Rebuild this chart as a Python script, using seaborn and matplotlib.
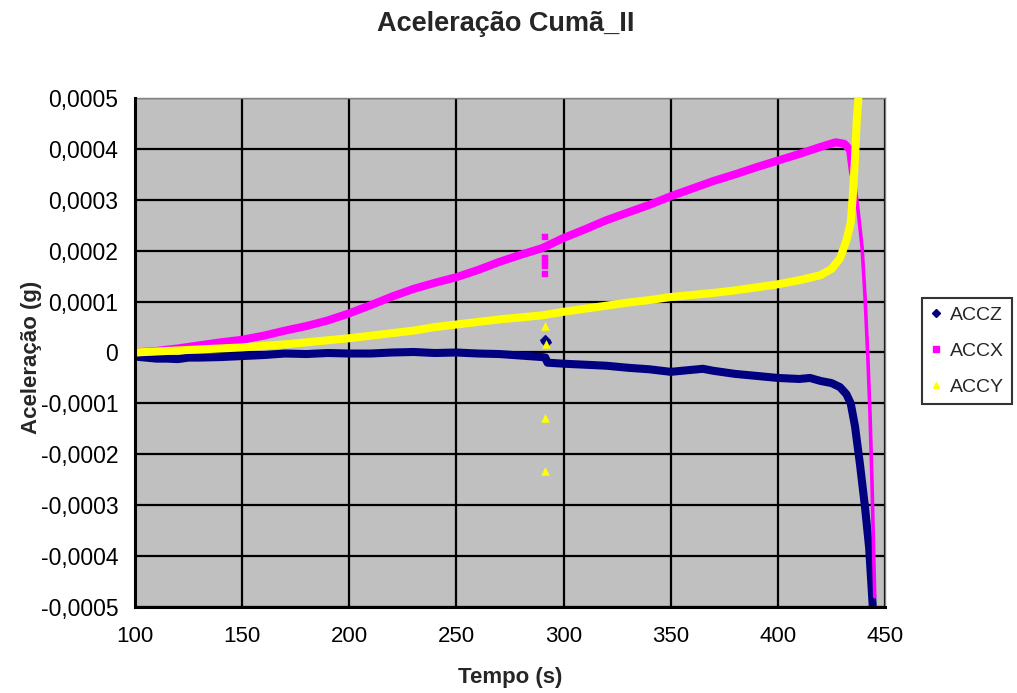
import matplotlib
matplotlib.use("Agg")
import matplotlib.pyplot as plt
from matplotlib.lines import Line2D
import seaborn as sns
import pandas as pd

# ---------------- data (values in 1e-4 g) ----------------
ACCZ_T = [100, 105, 110, 115, 120, 125, 130, 140, 150, 160, 170, 180, 190, 200, 210, 220,
          230, 240, 250, 260, 270, 280, 290, 291.5, 292.5, 300, 310, 320, 330, 340, 350,
          360, 365, 370, 380, 390, 400, 410, 415, 420, 425, 429, 432, 434, 436, 438.3,
          440.7, 442.6, 444.3]
ACCZ_V = [-0.08, -0.1, -0.12, -0.12, -0.13, -0.1, -0.1, -0.09, -0.07, -0.05, -0.02, -0.03,
          -0.01, -0.02, -0.02, 0.0, 0.01, -0.01, 0.0, -0.02, -0.03, -0.06, -0.09, -0.1,
          -0.2, -0.22, -0.24, -0.26, -0.3, -0.33, -0.38, -0.34, -0.32, -0.36, -0.42, -0.46,
          -0.5, -0.52, -0.5, -0.56, -0.6, -0.68, -0.82, -1.0, -1.45, -2.19, -3.05, -3.84, -5.0]

ACCX_T = [100, 110, 120, 130, 140, 150, 160, 170, 180, 190, 200, 210, 220, 230, 240, 250,
          260, 270, 280, 290, 300, 310, 320, 330, 340, 350, 360, 370, 380, 390, 400, 410,
          420, 427, 431, 433.7, 435.1, 436.9, 439.3, 440.7, 442, 443, 443.9, 445.2]
ACCX_V = [0.0, 0.03, 0.08, 0.14, 0.2, 0.25, 0.33, 0.43, 0.52, 0.63, 0.77, 0.93, 1.1, 1.25,
          1.37, 1.48, 1.62, 1.78, 1.92, 2.05, 2.25, 2.42, 2.6, 2.75, 2.9, 3.07, 3.22, 3.37,
          3.5, 3.64, 3.77, 3.9, 4.04, 4.13, 4.1, 3.98, 3.52, 2.99, 2.07, 1.08, -0.1, -1.2,
          -2.5, -4.8]

ACCY_T = [100, 110, 120, 130, 140, 150, 160, 170, 180, 190, 200, 210, 220, 230, 240, 250,
          260, 270, 280, 290, 300, 310, 320, 330, 340, 350, 360, 370, 380, 390, 400, 410,
          420, 425, 429, 432, 434, 435, 436, 436.8, 437.6, 438.2]
ACCY_V = [0.0, 0.02, 0.04, 0.06, 0.08, 0.1, 0.13, 0.16, 0.2, 0.24, 0.28, 0.33, 0.38, 0.43,
          0.5, 0.55, 0.6, 0.65, 0.69, 0.73, 0.8, 0.86, 0.92, 0.98, 1.03, 1.09, 1.13, 1.17,
          1.22, 1.28, 1.34, 1.42, 1.52, 1.64, 1.85, 2.2, 2.55, 3.1, 3.8, 4.55, 5.0, 5.4]

# outlier samples near t = 291.5 s
OUT_Z_T = [291.4, 291.6]
OUT_Z_V = [0.25, 0.2]
OUT_X_T = [291.3, 291.3, 291.4, 291.4, 291.3]
OUT_X_V = [2.26, 1.85, 1.77, 1.7, 1.55]
OUT_Y_T = [291.5, 291.6, 291.5, 291.4]
OUT_Y_V = [0.52, 0.16, -1.28, -2.32]

SERIES = ["ACCZ", "ACCX", "ACCY"]
X_TICKS = [100, 150, 200, 250, 300, 350, 400, 450]
Y_TICKS = [-5, -4, -3, -2, -1, 0, 1, 2, 3, 4, 5]
Y_TICK_LABELS = ["-0,0005", "-0,0004", "-0,0003", "-0,0002", "-0,0001", "0",
                 "0,0001", "0,0002", "0,0003", "0,0004", "0,0005"]
TITLE = "Aceleração Cumã_II"
XLABEL = "Tempo (s)"
YLABEL = "Aceleração (g)"

NAVY, MAGENTA, YELLOW = "#000080", "#FF00FF", "#FFFF00"
SCALE = 1e-4

# ---------------- figure ----------------
sns.set_style("white")
plt.rcParams["font.family"] = ["Liberation Sans", "DejaVu Sans"]

fig = plt.figure(figsize=(10.17, 6.93), dpi=100)
ax = fig.add_axes([135 / 1017, 1 - 607 / 693, 750 / 1017, 509 / 693])
ax.set_facecolor("#C0C0C0")

def df(t, v):
    return pd.DataFrame({"t": t, "v": [x * SCALE for x in v]})

lw = 5.8
# ACCZ
sns.lineplot(data=df(ACCZ_T, ACCZ_V), x="t", y="v", sort=False, estimator=None,
             color=NAVY, linewidth=lw, ax=ax, zorder=3)
sns.scatterplot(data=df(OUT_Z_T, OUT_Z_V), x="t", y="v", color=NAVY, marker="D",
                s=30, edgecolor=NAVY, ax=ax, zorder=3)
# ACCX (main + sparse fast-falling tail)
split = ACCX_T.index(435.1)
sns.lineplot(data=df(ACCX_T[:split + 1], ACCX_V[:split + 1]), x="t", y="v", sort=False,
             estimator=None, color=MAGENTA, linewidth=lw, ax=ax, zorder=4)
sns.lineplot(data=df(ACCX_T[split:], ACCX_V[split:]), x="t", y="v", sort=False,
             estimator=None, color=MAGENTA, linewidth=2.6, ax=ax, zorder=4)
sns.scatterplot(data=df(OUT_X_T, OUT_X_V), x="t", y="v", color=MAGENTA, marker="s",
                s=14, edgecolor=MAGENTA, ax=ax, zorder=4)
# ACCY
sns.lineplot(data=df(ACCY_T, ACCY_V), x="t", y="v", sort=False, estimator=None,
             color=YELLOW, linewidth=lw, ax=ax, zorder=5)
sns.scatterplot(data=df(OUT_Y_T, OUT_Y_V), x="t", y="v", color=YELLOW, marker="^",
                s=30, edgecolor=YELLOW, ax=ax, zorder=5)

ax.set_xlim(100, 450)
ax.set_ylim(-5 * SCALE, 5 * SCALE)
ax.set_xticks(X_TICKS)
ax.set_xticklabels([str(x) for x in X_TICKS])
ax.set_yticks([y * SCALE for y in Y_TICKS])
ax.set_yticklabels(Y_TICK_LABELS)

ax.grid(True, color="black", linewidth=1.6)
ax.set_axisbelow(True)
for s in ["left", "bottom"]:
    ax.spines[s].set_color("black")
    ax.spines[s].set_linewidth(2.2)
    ax.spines[s].set_zorder(6)
for s in ["top", "right"]:
    ax.spines[s].set_color("#808080")
    ax.spines[s].set_linewidth(1.0)

ax.tick_params(axis="both", direction="out", length=6, width=2, color="black",
               labelcolor="black")
ax.tick_params(axis="x", pad=8, labelsize=16)
ax.tick_params(axis="y", pad=6, labelsize=16.5)

ax.set_xlabel(XLABEL, fontsize=16, fontweight="bold")
ax.xaxis.set_label_coords(0.5, -0.118)
ax.set_ylabel(YLABEL, fontsize=16, fontweight="bold")
ax.yaxis.set_label_coords(-0.124, 0.49)

fig.text(506 / 1017, 1 - 24 / 693, TITLE, ha="center", va="center",
         fontsize=19.5, fontweight="bold")

handles = [
    Line2D([], [], linestyle="none", marker="D", color=NAVY, markersize=4),
    Line2D([], [], linestyle="none", marker="s", color=MAGENTA, markersize=4),
    Line2D([], [], linestyle="none", marker="^", color=YELLOW, markersize=5),
]
leg = fig.legend(handles, SERIES, loc="center left",
                 bbox_to_anchor=(922 / 1017, 1 - 351 / 693), frameon=True,
                 fancybox=False, edgecolor="black", fontsize=14, handlelength=0.6,
                 handletextpad=0.45, borderpad=0.4, labelspacing=0.95,
                 borderaxespad=0)
leg.get_frame().set_linewidth(1.5)

fig.savefig("out.png", dpi=100)
